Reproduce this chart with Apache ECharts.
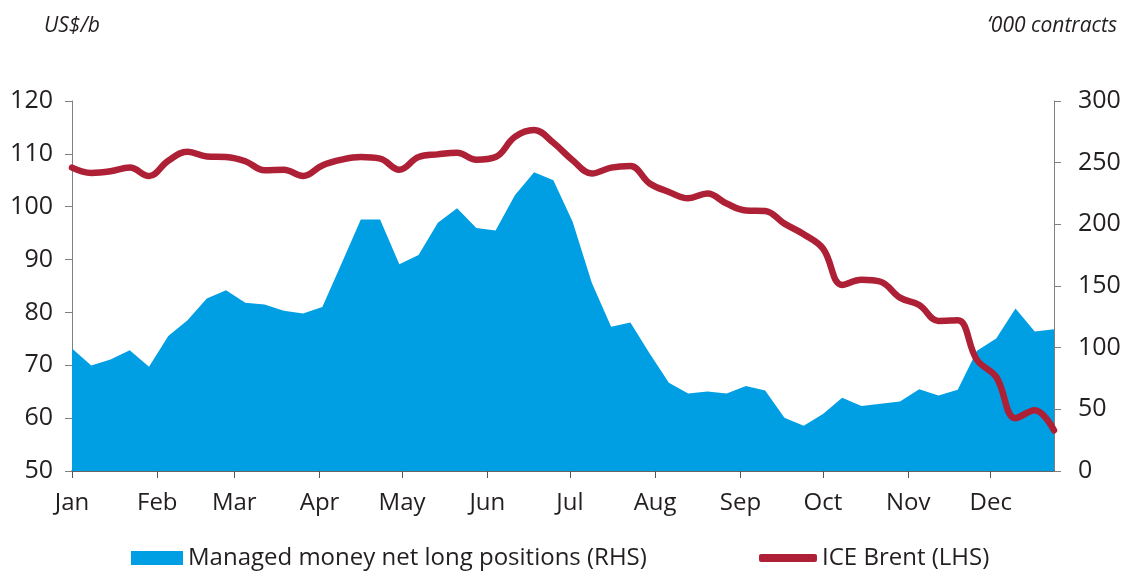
<!DOCTYPE html>
<html>
<head>
<meta charset="utf-8">
<script src="https://cdn.jsdelivr.net/npm/echarts@6/dist/echarts.min.js"></script>
<style>
  html, body { margin: 0; padding: 0; background: #fff; }
  #chart { width: 1131px; height: 572px; }
</style>
</head>
<body>
<div id="chart"></div>
<script>
// weekly observations, 2014
const weeks = [
    '2014-01-01', '2014-01-08', '2014-01-15', '2014-01-22', '2014-01-29',
    '2014-02-05', '2014-02-12', '2014-02-19', '2014-02-26',
    '2014-03-05', '2014-03-12', '2014-03-19', '2014-03-26',
    '2014-04-02', '2014-04-09', '2014-04-16', '2014-04-23', '2014-04-30',
    '2014-05-07', '2014-05-14', '2014-05-21', '2014-05-28',
    '2014-06-04', '2014-06-11', '2014-06-18', '2014-06-25',
    '2014-07-02', '2014-07-09', '2014-07-16', '2014-07-23', '2014-07-30',
    '2014-08-06', '2014-08-13', '2014-08-20', '2014-08-27',
    '2014-09-03', '2014-09-10', '2014-09-17', '2014-09-24',
    '2014-10-01', '2014-10-08', '2014-10-15', '2014-10-22', '2014-10-29',
    '2014-11-05', '2014-11-12', '2014-11-19', '2014-11-26',
    '2014-12-03', '2014-12-10', '2014-12-17', '2014-12-24'
]
const monthNames = ['Jan', 'Feb', 'Mar', 'Apr', 'May', 'Jun', 'Jul', 'Aug', 'Sep', 'Oct', 'Nov', 'Dec']

// '000 contracts (RHS)
const netLong = [
    99.4, 85.6, 90.5, 98, 84.5, 109.4, 122.3, 139.9, 146.6, 136.4,
    135, 129.9, 127.7, 132.9, 168.2, 204, 204, 167.7, 175.2, 201.2,
    213, 197.1, 195, 223.6, 242.2, 235.7, 202, 152.5, 116.9, 120.5,
    95.3, 71.6, 62.8, 64.5, 62.9, 68.9, 65.3, 43.2, 36.7, 46.2,
    59.4, 52.7, 54.5, 56.4, 66.2, 61.3, 65.9, 97.5, 107.5, 131.8,
    113.2, 115
]
// US$/b (LHS)
const brent = [
    107.4, 106.4, 106.7, 107.4, 105.8, 108.7, 110.4, 109.5, 109.4, 108.6,
    106.9, 107, 105.8, 107.8, 108.9, 109.4, 109.1, 107, 109.4, 109.9,
    110.2, 108.9, 109.4, 113.2, 114.5, 112.1, 108.8, 106.3, 107.4, 107.7,
    104.4, 102.8, 101.6, 102.5, 100.6, 99.3, 99.2, 96.8, 94.8, 92.1,
    85.2, 86.2, 85.8, 82.8, 81.4, 78.4, 78.5, 71, 67.8, 60,
    61.5, 57.7
]

const font = 'Open Sans'
const ink = '#231f20'

const myChart = echarts.init(document.getElementById('chart'))
const option = {
    animation: false,
    textStyle: { fontFamily: font, color: ink },
    title: [
        {
            text: 'US$/b',
            left: 39,
            top: 11,
            textStyle: { fontFamily: font, fontStyle: 'italic', fontWeight: 'normal', fontSize: 21, color: ink }
        },
        {
            text: '‘000 contracts',
            right: 9,
            top: 11,
            textStyle: { fontFamily: font, fontStyle: 'italic', fontWeight: 'normal', fontSize: 21, color: ink }
        }
    ],
    legend: [
        {
            data: [{ name: 'Managed money net long positions (RHS)', icon: 'rect' }],
            left: 126,
            top: 541,
            itemWidth: 52,
            itemHeight: 14,
            textStyle: { fontFamily: font, fontSize: 24, color: ink }
        },
        {
            data: [{ name: 'ICE Brent (LHS)', icon: 'roundRect' }],
            left: 754,
            top: 541,
            itemWidth: 58,
            itemHeight: 8,
            textStyle: { fontFamily: font, fontSize: 24, color: ink }
        }
    ],
    grid: {
        left: 72,
        right: 77,
        top: 101,
        bottom: 101
    },
    xAxis: {
        type: 'time',
        min: weeks[0],
        max: weeks[weeks.length - 1],
        splitNumber: 12,
        axisLine: { lineStyle: { color: '#333', width: 1.5 } },
        axisTick: { show: true, length: 7, lineStyle: { color: '#555' } },
        splitLine: { show: false },
        axisLabel: {
            margin: 20,
            fontSize: 24,
            color: ink,
            fontFamily: font,
            showMaxLabel: false,
            formatter: function (val) {
                return monthNames[new Date(val).getMonth()]
            }
        }
    },
    yAxis: [
        {
            type: 'value',
            min: 50,
            max: 120,
            interval: 10,
            axisLine: { show: true, lineStyle: { color: '#808080' } },
            axisTick: { show: true, length: 7, lineStyle: { color: '#808080' } },
            splitLine: { show: false },
            axisLabel: { margin: 19, fontSize: 25, color: ink, fontFamily: font }
        },
        {
            type: 'value',
            min: 0,
            max: 300,
            interval: 50,
            position: 'right',
            axisLine: { show: true, lineStyle: { color: '#808080' } },
            axisTick: { show: true, length: 7, lineStyle: { color: '#808080' } },
            splitLine: { show: false },
            axisLabel: { margin: 24, fontSize: 25, color: ink, fontFamily: font }
        }
    ],
    series: [
        {
            name: 'Managed money net long positions (RHS)',
            type: 'line',
            yAxisIndex: 1,
            data: weeks.map((d, i) => [d, netLong[i]]),
            showSymbol: false,
            lineStyle: { width: 0 },
            itemStyle: { color: '#009fe3' },
            areaStyle: { color: '#009fe3', opacity: 1 },
            z: 1
        },
        {
            name: 'ICE Brent (LHS)',
            type: 'line',
            yAxisIndex: 0,
            data: weeks.map((d, i) => [d, brent[i]]),
            showSymbol: false,
            smooth: 0.4,
            lineStyle: { width: 6.5, color: '#ad2035', cap: 'round' },
            itemStyle: { color: '#ad2035' },
            z: 3
        }
    ]
}
myChart.setOption(option)
</script>
</body>
</html>
